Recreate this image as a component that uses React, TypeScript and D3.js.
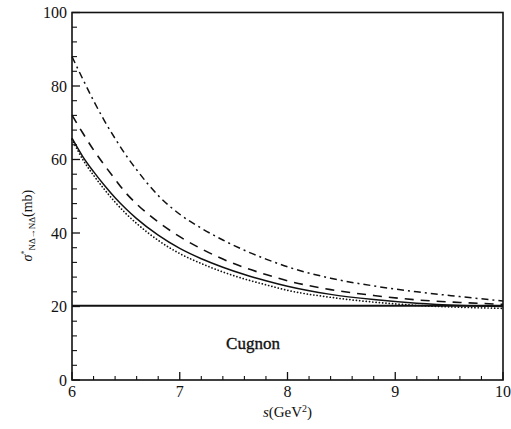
import React from 'react';
import { scaleLinear, line, curveMonotoneX, range } from 'd3';

// s grid (GeV^2) and cross sections (mb)
const S_VALUES = [6, 6.1, 6.2, 6.3, 6.4, 6.5, 6.6, 6.8, 7.0, 7.2, 7.4, 7.6, 7.8, 8.0, 8.4, 8.8, 9.2, 9.6, 10];
const SOLID = [65.8, 60.8, 56.7, 53.0, 49.6, 46.6, 43.9, 39.4, 35.8, 33.0, 30.7, 28.7, 27.0, 25.5, 23.3, 21.9, 20.9, 20.3, 20.0];
const DOTTED = [65.5, 60.0, 55.7, 51.9, 48.4, 45.3, 42.6, 38.0, 34.4, 31.7, 29.4, 27.5, 25.9, 24.4, 22.5, 21.2, 20.3, 19.8, 19.5];
const LONG_DASH = [72.1, 67.2, 62.6, 58.5, 54.6, 50.9, 47.9, 43.0, 39.0, 35.7, 32.9, 30.6, 28.7, 27.0, 24.6, 23.0, 21.8, 21.1, 20.6];
const DASH_DOT = [88.0, 81.9, 76.0, 70.6, 65.7, 61.2, 57.2, 50.2, 45.1, 41.3, 38.1, 35.3, 32.9, 30.8, 27.7, 25.6, 24.0, 22.7, 21.5];
const CUGNON_S = [6, 10];
const CUGNON = [20.2, 20.2];

const X_TICKS = [6, 7, 8, 9, 10];
const Y_TICKS = [0, 20, 40, 60, 80, 100];

const W = 511;
const H = 429;
const M = { left: 72, right: 8, top: 12.5, bottom: 49 };
const FONT = '"Liberation Serif", "DejaVu Serif", serif';
const INK = '#111';

export default function App() {
	const x = scaleLinear().domain([6, 10]).range([M.left, W - M.right]);
	const y = scaleLinear().domain([0, 100]).range([H - M.bottom, M.top]);

	const mk = (vals: number[], xs: number[] = S_VALUES) =>
		line<number>()
			.x((_, i) => x(xs[i]))
			.y((d) => y(d))
			.curve(curveMonotoneX)(vals) || '';

	const xMinor = range(6, 10.001, 0.2).filter((v) => Math.abs(v - Math.round(v)) > 0.01);
	const yMinor = range(0, 100.001, 4).filter((v) => v % 20 !== 0);

	const x0 = x(6);
	const x1 = x(10);
	const y0 = y(0);
	const y1 = y(100);

	return (
		<svg width={W} height={H} style={{ position: 'absolute', left: 0, top: 0, background: '#fff' }}>
			{/* curves */}
			<path d={mk(CUGNON, CUGNON_S)} fill="none" stroke={INK} strokeWidth={2.2} />
			<path d={mk(DOTTED)} fill="none" stroke={INK} strokeWidth={1.7} strokeDasharray="0.1 3.2" strokeLinecap="round" />
			<path d={mk(SOLID)} fill="none" stroke={INK} strokeWidth={1.5} />
			<path d={mk(LONG_DASH)} fill="none" stroke={INK} strokeWidth={1.6} strokeDasharray="9 7" />
			<path d={mk(DASH_DOT)} fill="none" stroke={INK} strokeWidth={1.5} strokeDasharray="7 4 2 4" />

			{/* frame */}
			<rect x={x0} y={y1} width={x1 - x0} height={y0 - y1} fill="none" stroke={INK} strokeWidth={1.6} />

			{/* x ticks */}
			{X_TICKS.map((t) => (
				<line key={`xt${t}`} x1={x(t)} x2={x(t)} y1={y0} y2={y0 - 8} stroke={INK} strokeWidth={1.3} />
			))}
			{xMinor.map((t) => (
				<line key={`xm${t}`} x1={x(t)} x2={x(t)} y1={y0} y2={y0 - 4} stroke={INK} strokeWidth={1.1} />
			))}
			{/* y ticks */}
			{Y_TICKS.map((t) => (
				<line key={`yt${t}`} x1={x0} x2={x0 + 8} y1={y(t)} y2={y(t)} stroke={INK} strokeWidth={1.3} />
			))}
			{yMinor.map((t) => (
				<line key={`ym${t}`} x1={x0} x2={x0 + 5} y1={y(t)} y2={y(t)} stroke={INK} strokeWidth={1.1} />
			))}

			{/* tick labels */}
			{X_TICKS.map((t) => (
				<text key={`xl${t}`} x={x(t)} y={y0 + 17} textAnchor="middle" fontFamily={FONT} fontSize={16} fill={INK}>
					{t}
				</text>
			))}
			{Y_TICKS.map((t) => (
				<text key={`yl${t}`} x={x0 - 5} y={y(t) + 5.5} textAnchor="end" fontFamily={FONT} fontSize={16} fill={INK}>
					{t}
				</text>
			))}

			{/* axis titles */}
			<text x={x(8)} y={H - 12} textAnchor="middle" fontFamily={FONT} fontSize={15} fill={INK}>
				<tspan fontStyle="italic">s</tspan>(GeV<tspan dy={-5} fontSize={10}>2</tspan>
				<tspan dy={5}>)</tspan>
			</text>
			<text
				transform={`translate(32, ${y(42)}) rotate(-90)`}
				textAnchor="middle"
				fontFamily={FONT}
				fontSize={14}
				fill={INK}
			>
				<tspan fontStyle="italic">σ</tspan>
				<tspan dy={-5} fontSize={8}>*</tspan>
				<tspan dy={8} fontSize={9}>NΔ→NΔ</tspan>
				<tspan dy={-3}>(mb)</tspan>
			</text>

			{/* annotation */}
			<text x={x(7.43)} y={y(8.5)} fontFamily={FONT} fontSize={17} fill={INK} stroke={INK} strokeWidth={0.35}>
				Cugnon
			</text>
		</svg>
	);
}
